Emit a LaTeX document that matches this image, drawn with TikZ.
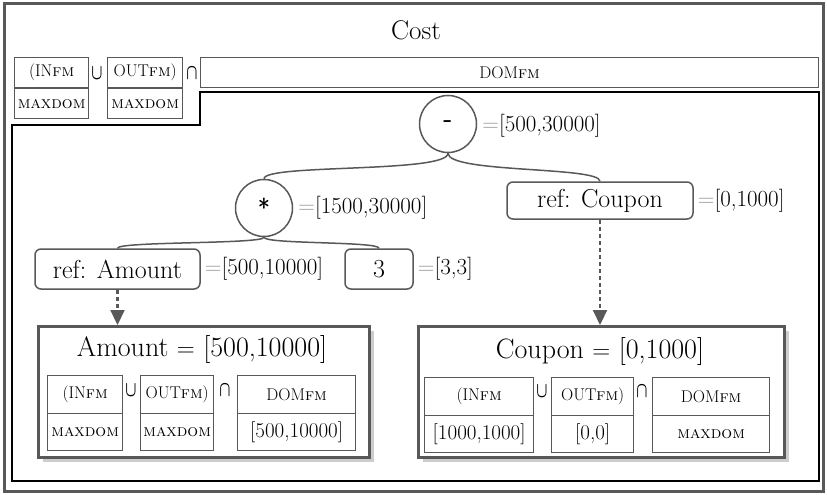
\documentclass[tikz,border=0pt]{standalone}
\usepackage{fontspec}
\usepackage{graphicx}
\usetikzlibrary{arrows.meta}
\definecolor{linegray}{RGB}{88,88,88}
\definecolor{eqgray}{RGB}{150,150,150}
\definecolor{shadowgray}{RGB}{205,205,205}
\newcommand\fsz[1]{\fontsize{#1}{#1}\selectfont}
\newcommand\fmtag{\textsc{fm}}
\newcommand\eqv[1]{\textcolor{eqgray}{=}#1}
\newcommand\setunion{\scalebox{0.7}[1.05]{\boldmath$\cup$}}
\newcommand\setinter{\scalebox{0.7}[1.05]{\boldmath$\cap$}}
\tikzset{
  cell/.style={draw=linegray, line width=1.3pt, inner sep=0pt, anchor=north west, font=\fsz{17}},
  opnode/.style={circle, draw=linegray, line width=1.5pt, minimum size=57pt, inner sep=0pt, font=\sffamily\fsz{26}},
  refbox/.style={draw=linegray, line width=1.5pt, rounded corners=6pt, inner sep=0pt, font=\fsz{26}},
  rangelabel/.style={anchor=west, inner sep=2pt, font=\fsz{23}},
  defbox/.style={draw=linegray, line width=3pt, fill=white, inner sep=0pt, anchor=north west},
  shade/.style={fill=shadowgray, draw=none},
  treeedge/.style={draw=linegray, line width=1.5pt},
  refedge/.style={draw=linegray, line width=2.2pt, dash pattern=on 4pt off 3pt, -{Triangle[width=14pt,length=15pt]}},
  setop/.style={inner sep=0pt, font=\fsz{22}},
}
\begin{document}
\begin{tikzpicture}[x=1pt,y=-1pt]
\useasboundingbox (0,0) rectangle (827,495);
% outer frame of the Cost feature
\draw[linegray, line width=3pt] (4,4) rectangle (823,491);
\node[font=\fsz{27}] (cost) at (416,30) {Cost};

% header row of domains
\node[cell, minimum width=74pt, minimum height=30pt] (hin) at (14,57) {(IN\fmtag};
\node[cell, minimum width=74pt, minimum height=30pt] (hinmax) at (14,88) {\textsc{maxdom}};
\node[cell, minimum width=75pt, minimum height=30pt] (hout) at (107,57) {OUT\fmtag)};
\node[cell, minimum width=75pt, minimum height=30pt] (houtmax) at (107,88) {\textsc{maxdom}};
\node[cell, minimum width=618pt, minimum height=30pt] (hdom) at (200,57) {DOM\fmtag};
\node[setop] (hcup) at (97,73) {\setunion};
\node[setop] (hcap) at (192,73) {\setinter};

% body region of the expression
\draw[black, line width=1.8pt] (12,125) -- (200,125) -- (200,92) -- (819,92) -- (819,481) -- (12,481) -- cycle;

% expression tree
\node[opnode, font=\sffamily\bfseries\fsz{26}] (minus) at (448,124) {-};
\node[rangelabel] (minusr) at ([xshift=3pt,yshift=-2pt]minus.east) {\eqv{[500,30000]}};
\node[opnode] (star) at (264,208) {*};
\node[rangelabel] (starr) at ([xshift=3pt]star.east) {\eqv{[1500,30000]}};
\node[refbox, minimum width=186pt, minimum height=37pt] (refc) at (600,200.5) {ref: Coupon};
\node[rangelabel] (refcr) at ([xshift=2pt]refc.east) {\eqv{[0,1000]}};
\node[refbox, minimum width=165pt, minimum height=40pt] (refa) at (117.5,269) {ref: Amount};
\node[rangelabel] (refar) at ([xshift=2pt]refa.east) {\eqv{[500,10000]}};
\node[refbox, minimum width=68pt, minimum height=40pt] (three) at (379,269) {3};
\node[rangelabel] (threer) at ([xshift=2pt]three.east) {\eqv{[3,3]}};

\draw[treeedge] (minus.south) .. controls +(0,20) and +(0,-15) .. (star.north);
\draw[treeedge] (minus.south) .. controls +(0,20) and +(0,-15) .. (refc.north);
\draw[treeedge] (star.south) .. controls +(0,7) and +(0,-7) .. (refa.north);
\draw[treeedge] (star.south) .. controls +(0,7) and +(0,-7) .. (three.north);

% definition of Amount
\fill[shade] (43,331) rectangle (374,462);
\node[defbox, minimum width=331pt, minimum height=131pt] (amount) at (37,325) {};
\node[font=\fsz{28}] (amountt) at (202,349) {Amount $=$ [500,10000]};
\node[cell, minimum width=75pt, minimum height=38pt] (ain) at (47,375) {(IN\fmtag};
\node[cell, minimum width=75pt, minimum height=37pt] (ainv) at (47,413) {\textsc{maxdom}};
\node[cell, minimum width=73pt, minimum height=38pt] (aout) at (140,375) {OUT\fmtag)};
\node[cell, minimum width=73pt, minimum height=37pt] (aoutv) at (140,413) {\textsc{maxdom}};
\node[cell, minimum width=118pt, minimum height=38pt] (adom) at (237,375) {DOM\fmtag};
\node[cell, minimum width=118pt, minimum height=37pt, font=\fsz{21}] (adomv) at (237,413) {[500,10000]};
\node[setop] (acup) at (131,390) {\setunion};
\node[setop] (acap) at (225,390) {\setinter};

% definition of Coupon
\fill[shade] (423,331) rectangle (789,462);
\node[defbox, minimum width=366pt, minimum height=131pt] (coupon) at (417,325) {};
\node[font=\fsz{28}] (coupont) at (600,351) {Coupon $=$ [0,1000]};
\node[cell, minimum width=109pt, minimum height=38pt] (cin) at (424,377) {(IN\fmtag};
\node[cell, minimum width=109pt, minimum height=37pt, font=\fsz{21}] (cinv) at (424,415) {[1000,1000]};
\node[cell, minimum width=82pt, minimum height=38pt] (cout) at (551,377) {OUT\fmtag)};
\node[cell, minimum width=82pt, minimum height=37pt, font=\fsz{21}] (coutv) at (551,415) {[0,0]};
\node[cell, minimum width=117pt, minimum height=38pt] (cdom) at (652,377) {DOM\fmtag};
\node[cell, minimum width=117pt, minimum height=37pt] (cdomv) at (652,415) {\textsc{maxdom}};
\node[setop] (ccup) at (542,391) {\setunion};
\node[setop] (ccap) at (642,391) {\setinter};

% references to the definitions
\draw[refedge] (refa.south) -- (refa.south |- amount.north);
\draw[refedge] (refc.south) -- (refc.south |- coupon.north);
\end{tikzpicture}
\end{document}
